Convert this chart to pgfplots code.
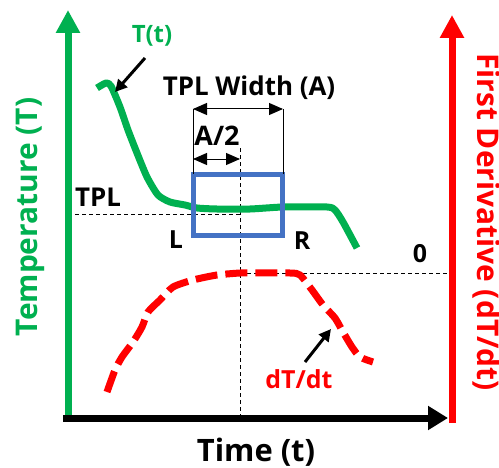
\documentclass[border=0pt]{standalone}
\usepackage{pgfplots}
\pgfplotsset{compat=1.18}
\usepackage{fontspec}
\setmainfont{Open Sans}
\usetikzlibrary{arrows.meta}
\definecolor{tgreen}{HTML}{00B050}
\definecolor{tred}{HTML}{FF0000}
\definecolor{tblue}{HTML}{4472C4}
\begin{document}
\begin{tikzpicture}
\begin{axis}[
  scale only axis, width=499bp, height=468bp,
  xmin=0, xmax=499, ymin=0, ymax=468, y dir=reverse,
  hide axis, clip=false,
  every node/.style={font=\bfseries},
]
% dashed guide lines
\addplot[black, line width=0.9bp, dash pattern=on 4bp off 3bp] coordinates {(68,214) (240,214)};
\addplot[black, line width=0.9bp, dash pattern=on 4bp off 3bp] coordinates {(240,148) (240,415)};
\addplot[black, line width=0.9bp, dash pattern=on 4bp off 3bp] coordinates {(240,273) (452,273)};
% T(t) curve
\addplot[tgreen, line width=7bp, smooth, tension=0.4, line join=round] coordinates {
(97,88)(106,83)(111,86)(120,107)(128,130)(137,153)(147,177)(158,195)(170,202)(185,205)(197,208)(217,209)(250,209)(283,207)(327,207)(335,210)(343,222)(357,248)};
% blue box
\addplot[tblue, line width=5bp] coordinates {(193,174)(282,174)(282,235)(193,235)} -- cycle;
% dT/dt curve
\addplot[tred, line width=7bp, smooth, tension=0.4, dash pattern=on 22bp off 8bp] coordinates {
(107,392)(115,370)(122,357)(133,342)(142,327)(148,312)(160,300)(173,287)(193,280)(217,275)(240,273)(250,273)(290,273)(300,275)(312,290)(323,305)(335,318)(343,332)(352,347)(360,357)(373,362)};
% width arrows
\addplot[black, line width=1bp] coordinates {(193,109)(193,174)};
\addplot[black, line width=1bp] coordinates {(283,109)(283,174)};
\addplot[black, line width=1bp, {Triangle[length=14bp,width=12bp]}-{Triangle[length=14bp,width=12bp]}] coordinates {(193,109)(283,109)};
\addplot[black, line width=1bp, {Triangle[length=14bp,width=12bp]}-{Triangle[length=14bp,width=12bp]}] coordinates {(193,159)(240,159)};
% pointer arrows
\addplot[black, line width=3bp, -{Triangle[length=12bp,width=12bp]}] coordinates {(145,58)(115,92)};
\addplot[black, line width=3bp, -{Triangle[length=12bp,width=12bp]}] coordinates {(305,362)(331,329)};
% axes
\addplot[tgreen, line width=7bp, -{Triangle[length=23bp,width=23bp]}] coordinates {(68,416)(68,10)};
\addplot[black, line width=7bp, -{Triangle[length=20bp,width=23bp]}] coordinates {(63,418)(448,418)};
\addplot[tred, line width=7bp, -{Triangle[length=23bp,width=23bp]}] coordinates {(452,423)(452,15)};
% labels
\node[tgreen, font=\fontsize{24}{26}\selectfont\bfseries] at (axis cs:152,36) {T(t)};
\node[font=\fontsize{26}{28}\selectfont\bfseries] at (axis cs:249,88) {TPL Width (A)};
\node[font=\fontsize{27}{29}\selectfont\bfseries] at (axis cs:217,136) {A/2};
\node[font=\fontsize{26}{28}\selectfont\bfseries] at (axis cs:98,197) {TPL};
\node[font=\fontsize{25}{27}\selectfont\bfseries] at (axis cs:176,240) {L};
\node[font=\fontsize{25}{27}\selectfont\bfseries] at (axis cs:302,241) {R};
\node[font=\fontsize{25}{27}\selectfont\bfseries] at (axis cs:420,254) {0};
\node[tred, font=\fontsize{25}{27}\selectfont\bfseries] at (axis cs:299,379) {dT/dt};
\node[tgreen, rotate=90, font=\fontsize{30}{32}\selectfont\bfseries] at (axis cs:30,217) {Temperature (T)};
\node[tred, rotate=-90, font=\fontsize{30}{32}\selectfont\bfseries] at (axis cs:486,222) {First Derivative (dT/dt)};
\node[font=\fontsize{31}{33}\selectfont\bfseries] at (axis cs:256,452) {Time (t)};
\end{axis}
\pgfresetboundingbox
\useasboundingbox (current axis.south west) rectangle (current axis.north east);
\end{tikzpicture}
\end{document}
